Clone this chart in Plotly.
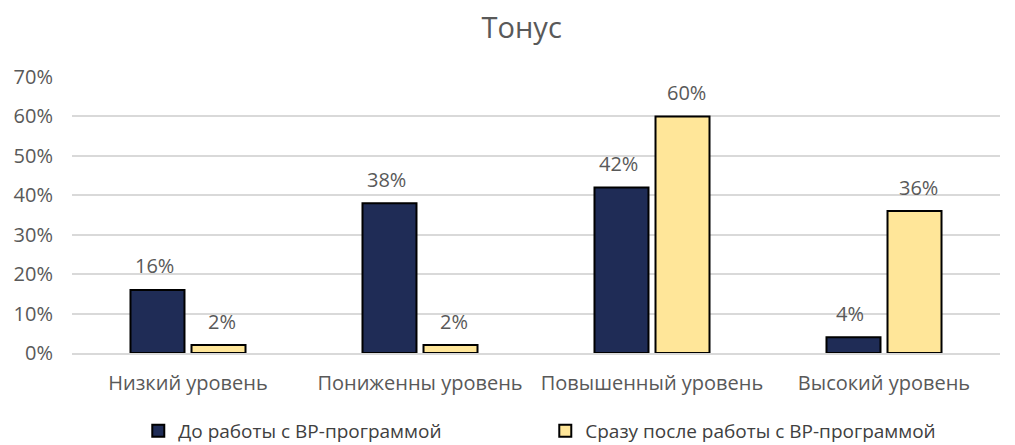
import plotly.graph_objects as go

categories = ["Низкий уровень", "Пониженны уровень", "Повышенный уровень", "Высокий уровень"]
before = [0.16, 0.38, 0.42, 0.04]
after = [0.02, 0.02, 0.60, 0.36]
series_names = ["До работы с ВР-программой", "Сразу после работы с ВР-программой"]
tick_vals = [0, 0.1, 0.2, 0.3, 0.4, 0.5, 0.6, 0.7]
tick_text = ["0%", "10%", "20%", "30%", "40%", "50%", "60%", "70%"]

font_family = "Open Sans, Noto Sans, sans-serif"
gray = "#595959"

fig = go.Figure()
series = [(series_names[0], before, "#1F2C56", -34), (series_names[1], after, "#FFE699", 34)]
for name, vals, color, dx in series:
    fig.add_trace(go.Bar(
        x=categories, y=vals, name=name,
        marker=dict(color=color, line=dict(color="black", width=2)),
    ))
    for c, v in zip(categories, vals):
        fig.add_annotation(x=c, y=v, xshift=dx, yshift=24, text=f"{round(v*100)}%",
                           showarrow=False, yanchor="middle", xanchor="center",
                           font=dict(size=20, color=gray, family=font_family))

fig.update_layout(
    width=1015, height=445,
    paper_bgcolor="white", plot_bgcolor="white",
    margin=dict(l=72, r=15, t=77, b=92, autoexpand=False),
    title=dict(text="Тонус", x=0.514, xanchor="center", y=1 - 28 / 445, yanchor="middle",
               font=dict(size=29, color=gray, family=font_family)),
    barmode="group", bargap=0.474, bargroupgap=0.115,
    showlegend=True,
    legend=dict(orientation="h", x=0.51, xanchor="center", yref="container",
                y=1 - 431 / 445, yanchor="middle",
                font=dict(size=19, color="#404040", family=font_family),
                itemwidth=30, entrywidthmode="pixels", entrywidth=362,
                traceorder="normal"),
    font=dict(family=font_family, color=gray),
)
fig.update_yaxes(range=[0, 0.7], tickvals=tick_vals, ticktext=tick_text,
                 showgrid=True, gridcolor="#D9D9D9", gridwidth=1.5,
                 zeroline=False, showline=False, automargin=False,
                 tickfont=dict(size=20, color=gray), ticks="", ticklabelstandoff=18)
fig.update_xaxes(showline=True, linecolor="#D9D9D9", linewidth=1.5, automargin=False,
                 tickfont=dict(size=20, color=gray), ticks="", ticklabelstandoff=11)

fig.write_html("out.html", config={"displayModeBar": False},
               post_script="document.body.style.margin='0';")
